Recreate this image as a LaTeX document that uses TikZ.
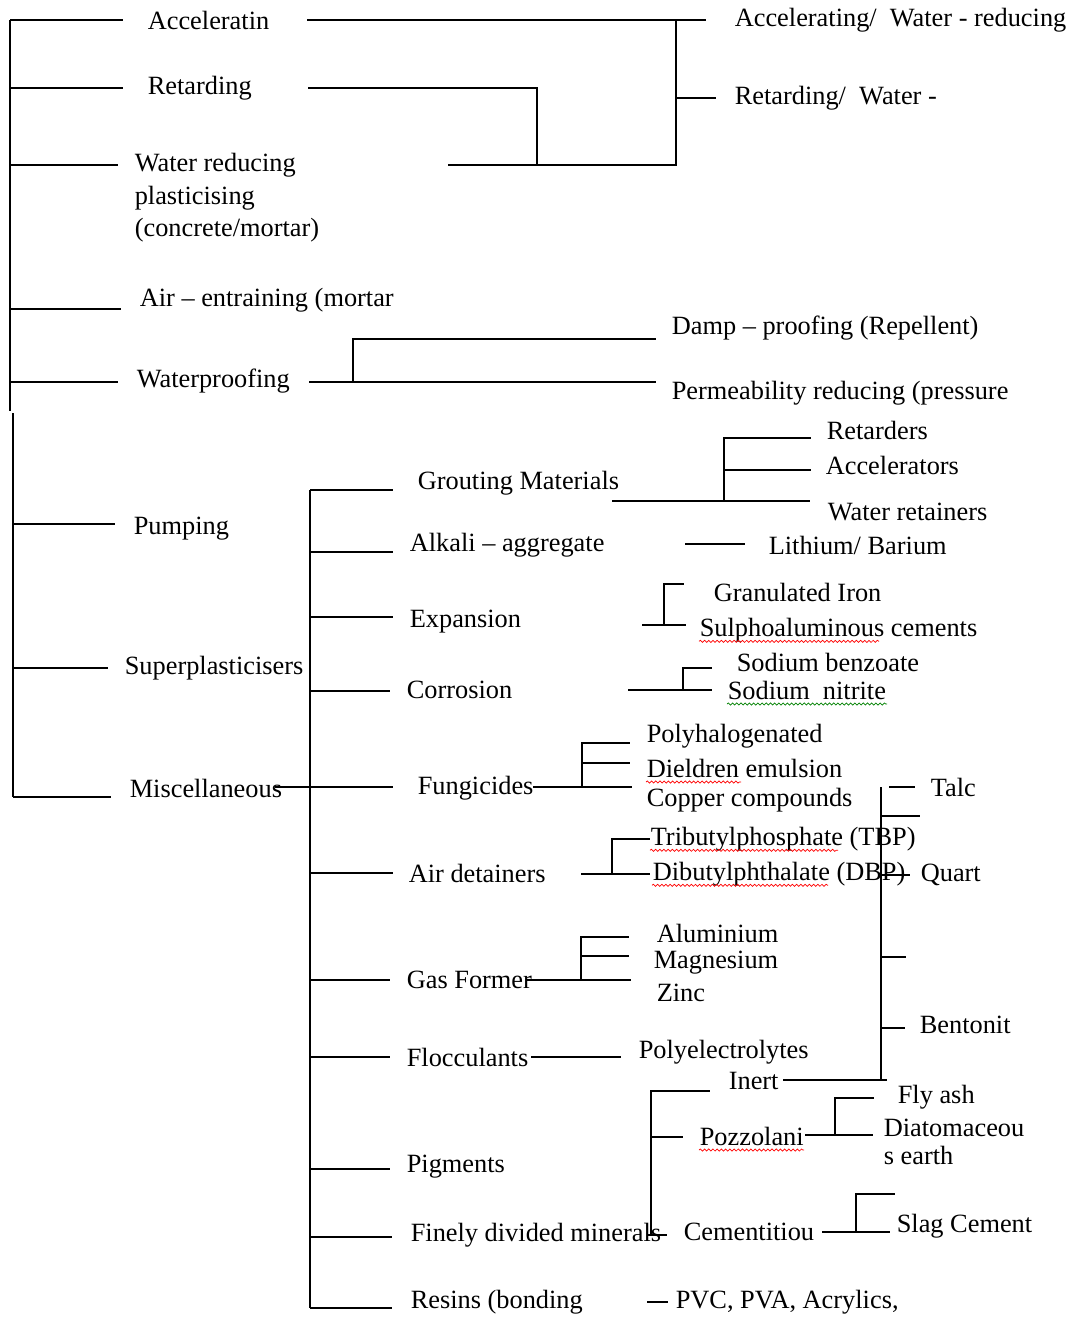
\documentclass[tikz,border=0pt]{standalone}
\usepackage{fontspec}
\setmainfont{Liberation Serif}
\usetikzlibrary{decorations.pathmorphing}
\tikzset{
	lbl/.style={inner sep=0pt, anchor=west, font=\fontsize{15}{18.5}\selectfont},
	squig/.style={red, line width=0.4pt, decorate, decoration={snake, amplitude=0.6pt, segment length=2.4pt}}
}
\begin{document}
\begin{tikzpicture}[x=0.02cm, y=-0.02cm, line width=0.9pt]
	\useasboundingbox (0,0) rectangle (1087,1318);
	% trunks
	\coordinate (T) at (10,20);
	\coordinate (Tb) at (10,411);
	\coordinate (U) at (13,413);
	\coordinate (Ub) at (13,797);
	\coordinate (S) at (310,490);
	\coordinate (Sb) at (310,1308);
	\draw (T) -- (Tb);
	\draw (U) -- (Ub);
	\draw (S) -- (Sb);
	% first level
	\node[lbl] (acc) at (147,20) {Acceleratin};
	\node[lbl] (ret) at (147,88) {Retarding};
	\node[lbl, align=left] (wr) at (134,198) {Water reducing\\plasticising\\(concrete/mortar)};
	\node[lbl] (air) at (139,300) {Air – entraining (mortar};
	\node[lbl] (wp) at (136,381) {Waterproofing};
	\node[lbl] (pump) at (133,529) {Pumping};
	\node[lbl] (sup) at (124,668) {Superplasticisers};
	\node[lbl] (misc) at (129,788) {Miscellaneous};
	\coordinate (acc-in) at (123,20);
	\coordinate (ret-in) at (123,88);
	\coordinate (wr-in) at (118,165);
	\coordinate (air-in) at (121,309);
	\coordinate (wp-in) at (118,382);
	\coordinate (pump-in) at (115,524);
	\coordinate (sup-in) at (108,668);
	\coordinate (misc-in) at (111,797);
	\foreach \n in {acc,ret,wr,air,wp}
		\draw (T |- \n-in) -- (\n-in);
	\foreach \n in {pump,sup,misc}
		\draw (U |- \n-in) -- (\n-in);
	% second level
	\node[lbl] (aw) at (734,20) {Accelerating/\enspace Water - reducing};
	\node[lbl] (rw) at (734,98) {Retarding/\enspace Water -};
	\node[lbl] (damp) at (671,328) {Damp – proofing (Repellent)};
	\node[lbl] (perm) at (671,393) {Permeability reducing (pressure};
	\node[lbl] (grout) at (417,483) {Grouting Materials};
	\node[lbl] (alk) at (409,545) {Alkali – aggregate};
	\node[lbl] (exp) at (409,622) {Expansion};
	\node[lbl] (cor) at (406,690) {Corrosion};
	\node[lbl] (fung) at (417,788) {Fungicides};
	\node[lbl] (det) at (408,873) {Air detainers};
	\node[lbl] (gas) at (406,980) {Gas Former};
	\node[lbl] (floc) at (406,1057) {Flocculants};
	\node[lbl] (pig) at (406,1167) {Pigments};
	\node[lbl] (fine) at (410,1235) {Finely divided minerals};
	\node[lbl] (res) at (410,1302) {Resins (bonding};
	\coordinate (acc-out) at (307,20);
	\coordinate (aw-in) at (706,20);
	\coordinate (rw-in) at (716,98);
	\coordinate (A) at (676,165);
	\coordinate (ret-out) at (308,88);
	\coordinate (R) at (537,165);
	\coordinate (wr-out) at (448,165);
	\draw (acc-out) -- (aw-in);
	\draw (ret-out) -| (R);
	\draw (wr-out) -| (A |- aw-in);
	\draw (A |- rw-in) -- (rw-in);
	\coordinate (wp-out) at (309,382);
	\coordinate (perm-in) at (656,382);
	\coordinate (damp-in) at (656,339);
	\coordinate (W) at (353,339);
	\draw (wp-out) -- (perm-in);
	\draw (W |- wp-out) |- (damp-in);
	\coordinate (grout-in) at (393,490);
	\coordinate (alk-in) at (393,552);
	\coordinate (exp-in) at (393,617);
	\coordinate (cor-in) at (390,691);
	\coordinate (fung-in) at (393,787);
	\coordinate (det-in) at (393,873);
	\coordinate (gas-in) at (390,980);
	\coordinate (floc-in) at (390,1057);
	\coordinate (pig-in) at (390,1169);
	\coordinate (fine-in) at (392,1237);
	\coordinate (res-in) at (392,1308);
	\foreach \n in {grout,alk,exp,cor,fung,det,gas,floc,pig,fine,res}
		\draw (S |- \n-in) -- (\n-in);
	\coordinate (misc-out) at (275,787);
	\draw (misc-out) -- (S |- misc-out);
	% third level
	\node[lbl] (retd) at (826,430) {Retarders};
	\node[lbl] (accr) at (825,465) {Accelerators};
	\node[lbl] (wret) at (827,512) {Water retainers};
	\node[lbl] (lib) at (768,545) {Lithium/ Barium};
	\node[lbl] (gran) at (713,592) {Granulated Iron};
	\node[lbl] (sulph) at (699,630) {Sulphoaluminous cements};
	\node[lbl] (sben) at (736,662) {Sodium benzoate};
	\node[lbl] (snit) at (727,690) {Sodium\ \ nitrite};
	\node[lbl] (poly) at (646,736) {Polyhalogenated};
	\node[lbl] (diel) at (646,768) {Dieldren emulsion};
	\node[lbl] (cop) at (646,800) {Copper compounds};
	\node[lbl] (tbp) at (650,839) {Tributylphosphate (TBP)};
	\node[lbl] (dbp) at (652,874) {Dibutylphthalate (DBP)};
	\node[lbl] (alu) at (656,933) {Aluminium};
	\node[lbl] (mag) at (653,963) {Magnesium};
	\node[lbl] (zinc) at (656,993) {Zinc};
	\node[lbl] (polye) at (638,1052) {Polyelectrolytes};
	\node[lbl] (inert) at (728,1081) {Inert};
	\node[lbl] (pozz) at (699,1136) {Pozzolani};
	\node[lbl] (cem) at (683,1232) {Cementitiou};
	\node[lbl] (pvc) at (675,1302) {PVC, PVA, Acrylics,};
	\coordinate (grout-out) at (612,501);
	\coordinate (wret-in) at (810,501);
	\coordinate (retd-in) at (811,438);
	\coordinate (accr-in) at (811,470);
	\coordinate (G) at (724,501);
	\draw (grout-out) -- (wret-in);
	\draw (G) |- (retd-in);
	\draw (G |- accr-in) -- (accr-in);
	\coordinate (alk-out) at (685,544);
	\coordinate (lib-in) at (745,544);
	\draw (alk-out) -- (lib-in);
	\coordinate (exp-out) at (642,625);
	\coordinate (sulph-in) at (686,625);
	\coordinate (gran-in) at (684,584);
	\coordinate (E) at (664,625);
	\draw (exp-out) -- (sulph-in);
	\draw (E) |- (gran-in);
	\coordinate (cor-out) at (628,690);
	\coordinate (snit-in) at (712,690);
	\coordinate (sben-in) at (712,668);
	\coordinate (C) at (683,690);
	\draw (cor-out) -- (snit-in);
	\draw (C) |- (sben-in);
	\coordinate (fung-out) at (533,787);
	\coordinate (cop-in) at (632,787);
	\coordinate (poly-in) at (630,743);
	\coordinate (diel-in) at (630,763);
	\coordinate (F) at (582,787);
	\draw (fung-out) -- (cop-in);
	\draw (F) |- (poly-in);
	\draw (F |- diel-in) -- (diel-in);
	\coordinate (det-out) at (581,874);
	\coordinate (dbp-in) at (650,874);
	\coordinate (tbp-in) at (650,839);
	\coordinate (D) at (612,874);
	\draw (det-out) -- (dbp-in);
	\draw (D) |- (tbp-in);
	\coordinate (gas-out) at (527,980);
	\coordinate (zinc-in) at (631,980);
	\coordinate (alu-in) at (629,937);
	\coordinate (mag-in) at (629,956);
	\coordinate (Gs) at (581,980);
	\draw (gas-out) -- (zinc-in);
	\draw (Gs) |- (alu-in);
	\draw (Gs |- mag-in) -- (mag-in);
	\coordinate (floc-out) at (531,1057);
	\coordinate (polye-in) at (621,1057);
	\draw (floc-out) -- (polye-in);
	\coordinate (fine-out) at (647,1235);
	\coordinate (cem-in) at (667,1235);
	\coordinate (inert-in) at (710,1091);
	\coordinate (pozz-in) at (683,1137);
	\coordinate (M) at (651,1235);
	\draw (fine-out) -- (cem-in);
	\draw (M) |- (inert-in);
	\draw (M |- pozz-in) -- (pozz-in);
	\coordinate (res-out) at (647,1302);
	\coordinate (pvc-in) at (668,1302);
	\draw (res-out) -- (pvc-in);
	% fourth level
	\node[lbl] (fly) at (897,1097) {Fly ash};
	\node[lbl, align=left, font=\fontsize{15}{16}\selectfont] (diat) at (883,1142) {Diatomaceou\\s earth};
	\node[lbl] (slag) at (896,1226) {Slag Cement};
	\node[lbl] (talc) at (930,787) {Talc};
	\node[lbl] (quart) at (920,875) {Quart};
	\node[lbl] (bent) at (919,1025) {Bentonit};
	\coordinate (pozz-out) at (805,1135);
	\coordinate (diat-in) at (873,1135);
	\coordinate (fly-in) at (874,1098);
	\coordinate (P) at (835,1135);
	\draw (pozz-out) -- (diat-in);
	\draw (P) |- (fly-in);
	\coordinate (cem-out) at (822,1232);
	\coordinate (slag-in) at (890,1232);
	\coordinate (cem-up) at (895,1194);
	\coordinate (Cm) at (856,1232);
	\draw (cem-out) -- (slag-in);
	\draw (Cm) |- (cem-up);
	\coordinate (inert-out) at (783,1080);
	\coordinate (inert-end) at (887,1080);
	\coordinate (K) at (881,787);
	\coordinate (talc-dash) at (889,787);
	\coordinate (talc-in) at (915,787);
	\coordinate (k2) at (920,816);
	\coordinate (quart-in) at (910,875);
	\coordinate (k4) at (906,957);
	\coordinate (bent-in) at (905,1028);
	\draw (inert-out) -- (inert-end);
	\draw (K) -- (K |- inert-end);
	\draw (talc-dash) -- (talc-in);
	\foreach \n in {k2,quart-in,k4,bent-in}
		\draw (K |- \n) -- (\n);
	% spell-check marks
	\draw[squig] (sulph.base west) ++(0,5) -- ++(180,0);
	\draw[squig] (diel.base west) ++(0,5) -- ++(95,0);
	\draw[squig] (tbp.base west) ++(0,5) -- ++(188,0);
	\draw[squig] (dbp.base west) ++(0,5) -- ++(176,0);
	\draw[squig] (pozz.base west) ++(0,5) -- ++(105,0);
	\draw[squig, green!50!black] (snit.base west) ++(0,5) -- ++(160,0);
\end{tikzpicture}
\end{document}
